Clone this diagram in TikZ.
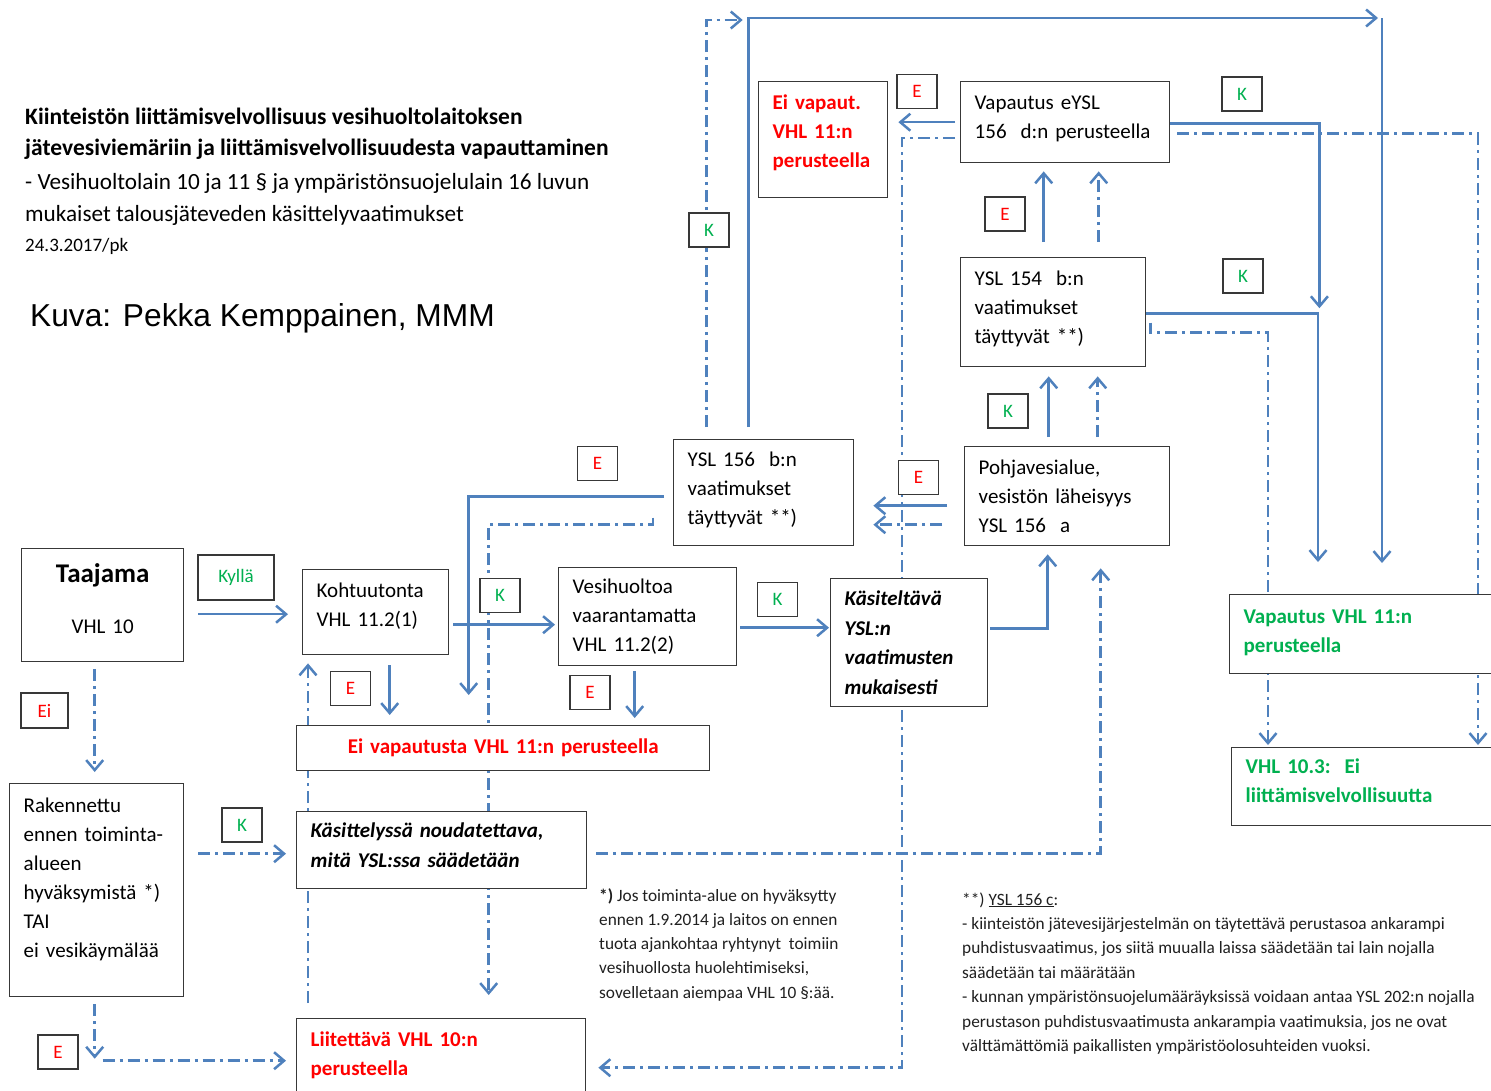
\documentclass[tikz,border=0pt]{standalone}
\usepackage{fontspec}
\setmainfont{Carlito}
\newfontfamily\arialfont{Liberation Sans}
\usetikzlibrary{arrows.meta}
\pgfdeclarelayer{tausta}
\pgfsetlayers{tausta,main}
\definecolor{sininen}{HTML}{4F81BD}
\definecolor{punainen}{HTML}{FF0000}
\definecolor{vihrea}{HTML}{00B050}
\definecolor{reuna}{HTML}{383838}
\definecolor{teksti}{HTML}{202020}
% tyhja rivi tekstin nostamiseksi laatikossa
\newcommand{\nosta}[1]{\\[#1]\mbox{}}

\begin{document}
\begin{tikzpicture}[x=1pt, y=-1pt,
    laatikko/.style={draw=reuna, line width=1.4pt, fill=white, align=left,
      inner xsep=14pt, inner ysep=3pt, anchor=north west,
      font=\fontsize{21}{29}\selectfont},
    lihava/.style={font=\fontsize{21}{29}\selectfont\bfseries},
    kursiivi/.style={font=\fontsize{21}{29.5}\selectfont\bfseries\itshape},
    tunnus/.style={draw=reuna, line width=1.3pt, fill=white, minimum width=40pt,
      minimum height=34pt, inner sep=0pt, font=\fontsize{19}{22}\selectfont},
    nuoli/.style={draw=sininen, line width=2.5pt,
      -{Straight Barb[length=10pt,width=17pt]}},
    katko/.style={nuoli, dash pattern=on 12pt off 5pt on 3pt off 5pt},
    alaviite/.style={anchor=base west, inner sep=0pt, text=teksti,
      font=\fontsize{17.3}{20}\selectfont}
  ]
  \useasboundingbox (0,0) rectangle (1491,1090);

  % otsikko
  \node[anchor=base west, inner sep=0pt, font=\fontsize{23.5}{26}\selectfont\bfseries] (otsikko1) at (25,124) {Kiinteistön liittämisvelvollisuus vesihuoltolaitoksen};
  \node[anchor=base west, inner sep=0pt, font=\fontsize{23.5}{26}\selectfont\bfseries] (otsikko2) at (25,155) {jätevesiviemäriin ja liittämisvelvollisuudesta vapauttaminen};
  \node[anchor=base west, inner sep=0pt, font=\fontsize{23.2}{26}\selectfont] (otsikko3) at (25,189) {- Vesihuoltolain 10 ja 11 § ja ympäristönsuojelulain 16 luvun};
  \node[anchor=base west, inner sep=0pt, font=\fontsize{23.2}{26}\selectfont] (otsikko4) at (25,221) {mukaiset talousjäteveden käsittelyvaatimukset};
  \node[anchor=base west, inner sep=0pt, font=\fontsize{19}{22}\selectfont] (pvm) at (25,251) {24.3.2017/pk};
  \node[anchor=base west, inner sep=0pt, font=\fontsize{31.7}{36}\arialfont] (kuva) at (30,326) {Kuva: Pekka Kemppainen, MMM};

  % laatikot
  \node[laatikko, lihava, text=punainen, text width=101pt, minimum height=116pt] (eivap) at (758,81) {Ei vapaut.\\VHL 11:n\\perusteella\nosta{-11pt}};
  \node[laatikko, text width=181pt, minimum height=81pt] (vapeysl) at (960,81) {Vapautus eYSL\\156\ \ d:n perusteella\nosta{-19pt}};
  \node[laatikko, text width=157pt, minimum height=109pt] (ysl154) at (960,257) {YSL 154\ \ b:n\\vaatimukset\\täyttyvät **)\nosta{-19pt}};
  \node[laatikko, text width=152pt, minimum height=106pt] (ysl156b) at (673,439) {YSL 156\ \ b:n\\vaatimukset\\täyttyvät **)\nosta{-21pt}};
  \node[laatikko, text width=177pt, minimum height=99pt] (pohja) at (964,446) {Pohjavesialue,\\vesistön läheisyys\\YSL 156\ \ a};
  \node[laatikko, align=center, text width=134pt, minimum height=113pt] (taajama) at (21,548) {{\fontsize{27}{29}\selectfont\bfseries Taajama}\\[22pt]VHL 10\nosta{-15pt}};
  \node[laatikko, text width=118pt, minimum height=85pt] (kohtuu) at (302,569) {Kohtuutonta\\VHL 11.2(1)\nosta{-13pt}};
  \node[laatikko, text width=150pt, minimum height=98pt] (vesih) at (558,567) {Vesihuoltoa\\vaarantamatta\\VHL 11.2(2)};
  \node[laatikko, kursiivi, text width=129pt, minimum height=128pt] (kasit) at (830,578) {Käsiteltävä\\YSL:n\\vaatimusten\\mukaisesti};
  \node[laatikko, lihava, text=vihrea, text width=272pt, minimum height=79pt] (vapvhl) at (1229,594) {Vapautus VHL 11:n\\perusteella\nosta{-23pt}};
  \node[laatikko, lihava, align=center, text=punainen, text width=385pt, minimum height=45pt] (eivapvhl) at (296,725) {Ei vapautusta VHL 11:n perusteella\nosta{-25pt}};
  \node[laatikko, lihava, text=vihrea, text width=272pt, minimum height=78pt] (vhl103) at (1231,747) {VHL 10.3:\ \ Ei\\liittämisvelvollisuutta\nosta{-17pt}};
  \node[laatikko, text width=146pt, minimum height=213pt] (rakenn) at (9,783) {Rakennettu\\ennen toiminta-\\alueen\\hyväksymistä *)\\TAI\\ei vesikäymälää\nosta{-3pt}};
  \node[laatikko, kursiivi, text width=262pt, minimum height=77pt] (kasittely) at (296,811) {Käsittelyssä noudatettava,\\mitä YSL:ssa säädetään\nosta{-19pt}};
  \node[laatikko, lihava, text=punainen, text width=261pt, minimum height=76pt] (liitet) at (296,1018) {Liitettävä VHL 10:n\\perusteella\nosta{-23pt}};

  % tunnukset
  \foreach \nimi/\x/\y/\kirjain/\vari in {e1/917/91.5/E/punainen, k1/1242/94/K/vihrea,
      k2/709/230/K/vihrea, e2/1005/214/E/punainen, k3/1243/276/K/vihrea,
      k4/1008/411/K/vihrea, e3/597.5/463.5/E/punainen, e4/918.5/477.5/E/punainen,
      k5/500/595.5/K/vihrea, k6/777.5/599.5/K/vihrea, e5/350.5/688.5/E/punainen,
      e6/590/692.5/E/punainen, k7/242/825/K/vihrea, e7/58/1052/E/punainen}
    \node[tunnus, text=\vari] (\nimi) at (\x,\y) {\kirjain};
  \node[tunnus, text=vihrea, minimum width=76pt, minimum height=45pt] (kylla) at (236,577.5) {Kyllä\hspace{6pt}};
  \node[tunnus, text=punainen, minimum width=47pt, minimum height=35pt] (ei) at (44.5,710.5) {Ei};

  % alaviitteet
  \foreach \rivi [count=\n from 0] in {{\textbf{*)} Jos toiminta-alue on hyväksytty},
      {ennen 1.9.2014 ja laitos on ennen}, {tuota ajankohtaa ryhtynyt\ \ toimiin},
      {vesihuollosta huolehtimiseksi,}, {sovelletaan aiempaa VHL 10 §:ää.}}
    \node[alaviite] (tahti\n) at (599,{901+24.3*\n}) {\rivi};
  \foreach \rivi [count=\n from 0] in {{**) \underline{YSL 156 c}:},
      {- kiinteistön jätevesijärjestelmän on täytettävä perustasoa ankarampi},
      {puhdistusvaatimus,\ jos siitä muualla laissa säädetään tai lain nojalla},
      {säädetään tai määrätään},
      {- kunnan\ ympäristönsuojelumääräyksissä voidaan antaa YSL 202:n\ nojalla},
      {perustason puhdistusvaatimusta ankarampia vaatimuksia, jos ne ovat},
      {välttämättömiä paikallisten ympäristöolosuhteiden vuoksi.}}
    \node[alaviite] (tahdet\n) at (962,{905+24.4*\n}) {\rivi};

  \begin{pgfonlayer}{tausta}
    \fill[white] (0,0) rectangle (1491,1090);
    % yhtenaiset nuolet
    \draw[nuoli, shorten <=14pt, shorten >=14pt] ([yshift=-9pt]taajama.east) -- ([yshift=-2pt]kohtuu.west);
    \draw[nuoli, shorten <=4pt, shorten >=3pt] ([yshift=-12.5pt]kohtuu.east) -- ([yshift=-12.5pt]kohtuu.east -| vesih.west);
    \draw[nuoli, shorten <=10pt, shorten >=10pt] ([xshift=14pt]kohtuu.south) -- ([xshift=14pt]kohtuu.south |- eivapvhl.north);
    \draw[nuoli, shorten <=5pt, shorten >=7pt] ([xshift=-13pt]vesih.south) -- ([xshift=-13pt]vesih.south |- eivapvhl.north);
    \draw[nuoli, shorten <=3pt, shorten >=1pt] ([yshift=-11pt]vesih.east) -- ([yshift=-11pt]vesih.east -| kasit.west);
    \draw[nuoli, shorten <=2pt, shorten >=8pt] ([yshift=14pt]kasit.east) -| ([xshift=-19.5pt]pohja.south);
    \draw[nuoli, shorten <=9pt, shorten >=9pt] ([xshift=-18.5pt]pohja.north) -- ([xshift=-18.5pt]pohja.north |- ysl154.south);
    \draw[nuoli, shorten <=15pt, shorten >=8pt] ([xshift=-9.5pt]ysl154.north) -- ([xshift=-9.5pt]ysl154.north |- vapeysl.south);
    \draw[nuoli, shorten <=5pt, shorten >=10pt] (vapeysl.west) -- (vapeysl.west -| eivap.east);
    \draw[nuoli, shorten >=4pt] ([yshift=-1.5pt]vapeysl.east) -| ([xshift=149pt]vapeysl.east |- ysl154.east);
    \draw[nuoli, shorten >=32pt] ([yshift=-1.5pt]ysl154.east) -| ([xshift=89pt]vapvhl.north west);
    \coordinate (ylakulma) at (1382,18);
    \draw[nuoli, shorten <=12pt, shorten >=4pt] ([xshift=-15pt]ysl156b.north) |- (ylakulma);
    \draw[nuoli, shorten >=31pt] (ylakulma) -- (ylakulma |- vapvhl.north);
    \draw[nuoli, shorten <=9pt, shorten >=30pt] ([yshift=-4pt]ysl156b.west) -| ([xshift=-34.5pt]eivapvhl.north);
    \draw[nuoli, shorten <=17pt, shorten >=19pt] ([yshift=-9.5pt]pohja.west) -- ([yshift=-9.5pt]pohja.west -| ysl156b.east);
    % katkoviivat
    \draw[katko, shorten <=22pt, shorten >=19pt] ([yshift=-28.5pt]pohja.west) -- ([yshift=-28.5pt]pohja.west -| ysl156b.east);
    \draw[katko, shorten <=9pt, shorten >=9pt] ([xshift=30.5pt]pohja.north) -- ([xshift=30.5pt]pohja.north |- ysl154.south);
    \draw[katko, shorten <=15pt, shorten >=8pt] ([xshift=45.5pt]ysl154.north) -- ([xshift=45.5pt]ysl154.north |- vapeysl.south);
    \draw[katko, shorten <=5pt, shorten >=12pt] ([yshift=-16pt]vapeysl.west) -| ([xshift=-58pt,yshift=-11pt]vapeysl.west |- liitet.east) -- ([yshift=-11pt]liitet.east);
    \draw[katko, shorten <=7pt, shorten >=2pt] ([yshift=-11.5pt]vapeysl.east) -| ([xshift=247pt]vhl103.north west);
    \draw[katko, shorten >=2pt] ([xshift=4pt,yshift=-10.5pt]ysl154.east) coordinate (d2) -- ([yshift=-10pt]d2) -| ([xshift=37pt]vhl103.north west);
    \draw[katko, shorten <=12pt, shorten >=6pt] ([xshift=-57pt]ysl156b.north) |- ([xshift=-15pt,yshift=-2pt]ysl156b.north |- ylakulma);
    \draw[katko, shorten >=23pt] ([xshift=-20pt,yshift=-25pt]ysl156b.west) coordinate (d1) -- ([yshift=-7pt]d1) -| ([xshift=47.5pt]liitet.north);
    \draw[katko, shorten <=7pt, shorten >=11pt] ([xshift=-8pt]taajama.south) -- ([xshift=-8pt]taajama.south |- rakenn.north);
    \draw[katko, shorten <=14pt, shorten >=10pt] ([yshift=36.5pt]rakenn.east) -- ([yshift=36.5pt]rakenn.east -| kasittely.west);
    \draw[katko, shorten <=7pt, shorten >=2pt] ([xshift=-2pt]rakenn.south) -- ([xshift=-2pt,yshift=-4pt]rakenn.south |- liitet.west);
    \draw[katko, shorten <=8pt, shorten >=10pt] ([xshift=-2pt,yshift=-4pt]rakenn.south |- liitet.west) -- ([yshift=-4pt]liitet.west);
    \draw[katko, shorten <=9pt, shorten >=22pt] ([yshift=-3.5pt]kasittely.east) -| ([xshift=33.5pt]pohja.south);
    \draw[katko, shorten <=15pt, shorten >=8pt] ([xshift=12pt]liitet.north west) -- ([xshift=6pt]kohtuu.south west);
  \end{pgfonlayer}
\end{tikzpicture}
\end{document}
